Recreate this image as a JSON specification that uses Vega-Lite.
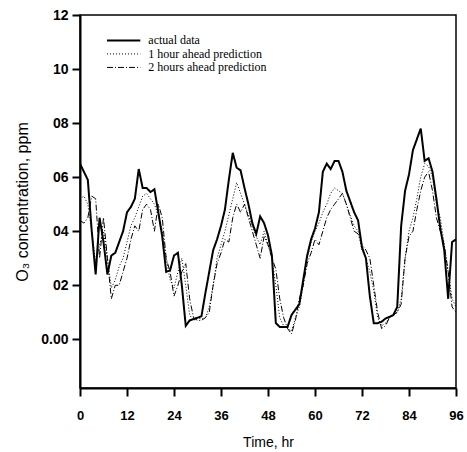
{
  "$schema": "https://vega.github.io/schema/vega-lite/v6.json",
  "width": 376,
  "height": 373,
  "autosize": "none",
  "padding": {"left": 80, "top": 15, "right": 11, "bottom": 64},
  "background": "white",
  "config": {
    "view": {"stroke": "black", "strokeWidth": 1.5},
    "axis": {"grid": false, "domainColor": "black", "tickColor": "black", "labelColor": "black", "titleColor": "black", "labelFont": "Liberation Sans", "titleFont": "Liberation Sans", "labelFontSize": 13, "titleFontSize": 14, "labelFontWeight": "bold", "titleFontWeight": "normal", "domainWidth": 2, "tickWidth": 2}
  },
  "datasets": {
    "legend": [
      {"s":"actual data","t":6.9,"t2":15.4,"v":0.1106},
      {"s":"1 hour ahead prediction","t":6.9,"t2":15.4,"v":0.1056},
      {"s":"2 hours ahead prediction","t":6.9,"t2":15.4,"v":0.1006}
    ],
    "series": [
      {"s":"actual data","t":0,"v":0.065},{"s":"actual data","t":1,"v":0.062},{"s":"actual data","t":2,"v":0.059},{"s":"actual data","t":3,"v":0.040},{"s":"actual data","t":4,"v":0.024},{"s":"actual data","t":5,"v":0.045},{"s":"actual data","t":6,"v":0.036},{"s":"actual data","t":7,"v":0.024},{"s":"actual data","t":8,"v":0.031},{"s":"actual data","t":9,"v":0.032},{"s":"actual data","t":10,"v":0.036},{"s":"actual data","t":11,"v":0.040},{"s":"actual data","t":12,"v":0.047},{"s":"actual data","t":13,"v":0.049},{"s":"actual data","t":14,"v":0.052},{"s":"actual data","t":15,"v":0.063},{"s":"actual data","t":16,"v":0.056},{"s":"actual data","t":17,"v":0.056},{"s":"actual data","t":18,"v":0.0545},{"s":"actual data","t":19,"v":0.0555},{"s":"actual data","t":20,"v":0.047},{"s":"actual data","t":21,"v":0.038},{"s":"actual data","t":22,"v":0.025},{"s":"actual data","t":23,"v":0.0255},{"s":"actual data","t":24,"v":0.031},{"s":"actual data","t":25,"v":0.032},{"s":"actual data","t":26,"v":0.020},{"s":"actual data","t":27,"v":0.005},{"s":"actual data","t":28,"v":0.007},{"s":"actual data","t":29,"v":0.0075},{"s":"actual data","t":30,"v":0.008},{"s":"actual data","t":31,"v":0.0085},{"s":"actual data","t":32,"v":0.017},{"s":"actual data","t":33,"v":0.025},{"s":"actual data","t":34,"v":0.033},{"s":"actual data","t":35,"v":0.037},{"s":"actual data","t":36,"v":0.042},{"s":"actual data","t":37,"v":0.048},{"s":"actual data","t":38,"v":0.059},{"s":"actual data","t":39,"v":0.069},{"s":"actual data","t":40,"v":0.0635},{"s":"actual data","t":41,"v":0.0625},{"s":"actual data","t":42,"v":0.056},{"s":"actual data","t":43,"v":0.050},{"s":"actual data","t":44,"v":0.043},{"s":"actual data","t":45,"v":0.039},{"s":"actual data","t":46,"v":0.0455},{"s":"actual data","t":47,"v":0.043},{"s":"actual data","t":48,"v":0.0385},{"s":"actual data","t":49,"v":0.031},{"s":"actual data","t":50,"v":0.006},{"s":"actual data","t":51,"v":0.0046},{"s":"actual data","t":52,"v":0.0046},{"s":"actual data","t":53,"v":0.0046},{"s":"actual data","t":54,"v":0.009},{"s":"actual data","t":55,"v":0.011},{"s":"actual data","t":56,"v":0.013},{"s":"actual data","t":57,"v":0.022},{"s":"actual data","t":58,"v":0.031},{"s":"actual data","t":59,"v":0.037},{"s":"actual data","t":60,"v":0.041},{"s":"actual data","t":61,"v":0.047},{"s":"actual data","t":62,"v":0.062},{"s":"actual data","t":63,"v":0.065},{"s":"actual data","t":64,"v":0.063},{"s":"actual data","t":65,"v":0.066},{"s":"actual data","t":66,"v":0.066},{"s":"actual data","t":67,"v":0.062},{"s":"actual data","t":68,"v":0.055},{"s":"actual data","t":69,"v":0.051},{"s":"actual data","t":70,"v":0.047},{"s":"actual data","t":71,"v":0.044},{"s":"actual data","t":72,"v":0.034},{"s":"actual data","t":73,"v":0.030},{"s":"actual data","t":74,"v":0.016},{"s":"actual data","t":75,"v":0.006},{"s":"actual data","t":76,"v":0.006},{"s":"actual data","t":77,"v":0.0065},{"s":"actual data","t":78,"v":0.0077},{"s":"actual data","t":79,"v":0.0083},{"s":"actual data","t":80,"v":0.009},{"s":"actual data","t":81,"v":0.012},{"s":"actual data","t":82,"v":0.042},{"s":"actual data","t":83,"v":0.055},{"s":"actual data","t":84,"v":0.061},{"s":"actual data","t":85,"v":0.070},{"s":"actual data","t":86,"v":0.074},{"s":"actual data","t":87,"v":0.078},{"s":"actual data","t":88,"v":0.066},{"s":"actual data","t":89,"v":0.067},{"s":"actual data","t":90,"v":0.062},{"s":"actual data","t":91,"v":0.052},{"s":"actual data","t":92,"v":0.041},{"s":"actual data","t":93,"v":0.033},{"s":"actual data","t":94,"v":0.015},{"s":"actual data","t":95,"v":0.036},{"s":"actual data","t":96,"v":0.037},

      {"s":"1 hour ahead prediction","t":0,"v":0.052},{"s":"1 hour ahead prediction","t":1,"v":0.053},{"s":"1 hour ahead prediction","t":2,"v":0.050},{"s":"1 hour ahead prediction","t":3,"v":0.040},{"s":"1 hour ahead prediction","t":4,"v":0.028},{"s":"1 hour ahead prediction","t":5,"v":0.035},{"s":"1 hour ahead prediction","t":6,"v":0.040},{"s":"1 hour ahead prediction","t":7,"v":0.030},{"s":"1 hour ahead prediction","t":8,"v":0.019},{"s":"1 hour ahead prediction","t":9,"v":0.022},{"s":"1 hour ahead prediction","t":10,"v":0.027},{"s":"1 hour ahead prediction","t":11,"v":0.030},{"s":"1 hour ahead prediction","t":12,"v":0.036},{"s":"1 hour ahead prediction","t":13,"v":0.042},{"s":"1 hour ahead prediction","t":14,"v":0.045},{"s":"1 hour ahead prediction","t":15,"v":0.049},{"s":"1 hour ahead prediction","t":16,"v":0.053},{"s":"1 hour ahead prediction","t":17,"v":0.054},{"s":"1 hour ahead prediction","t":18,"v":0.052},{"s":"1 hour ahead prediction","t":19,"v":0.050},{"s":"1 hour ahead prediction","t":20,"v":0.046},{"s":"1 hour ahead prediction","t":21,"v":0.040},{"s":"1 hour ahead prediction","t":22,"v":0.030},{"s":"1 hour ahead prediction","t":23,"v":0.022},{"s":"1 hour ahead prediction","t":24,"v":0.019},{"s":"1 hour ahead prediction","t":25,"v":0.025},{"s":"1 hour ahead prediction","t":26,"v":0.030},{"s":"1 hour ahead prediction","t":27,"v":0.020},{"s":"1 hour ahead prediction","t":28,"v":0.009},{"s":"1 hour ahead prediction","t":29,"v":0.007},{"s":"1 hour ahead prediction","t":30,"v":0.008},{"s":"1 hour ahead prediction","t":31,"v":0.0075},{"s":"1 hour ahead prediction","t":32,"v":0.008},{"s":"1 hour ahead prediction","t":33,"v":0.012},{"s":"1 hour ahead prediction","t":34,"v":0.020},{"s":"1 hour ahead prediction","t":35,"v":0.030},{"s":"1 hour ahead prediction","t":36,"v":0.035},{"s":"1 hour ahead prediction","t":37,"v":0.040},{"s":"1 hour ahead prediction","t":38,"v":0.046},{"s":"1 hour ahead prediction","t":39,"v":0.052},{"s":"1 hour ahead prediction","t":40,"v":0.058},{"s":"1 hour ahead prediction","t":41,"v":0.054},{"s":"1 hour ahead prediction","t":42,"v":0.050},{"s":"1 hour ahead prediction","t":43,"v":0.046},{"s":"1 hour ahead prediction","t":44,"v":0.042},{"s":"1 hour ahead prediction","t":45,"v":0.038},{"s":"1 hour ahead prediction","t":46,"v":0.035},{"s":"1 hour ahead prediction","t":47,"v":0.040},{"s":"1 hour ahead prediction","t":48,"v":0.035},{"s":"1 hour ahead prediction","t":49,"v":0.030},{"s":"1 hour ahead prediction","t":50,"v":0.020},{"s":"1 hour ahead prediction","t":51,"v":0.008},{"s":"1 hour ahead prediction","t":52,"v":0.005},{"s":"1 hour ahead prediction","t":53,"v":0.004},{"s":"1 hour ahead prediction","t":54,"v":0.003},{"s":"1 hour ahead prediction","t":55,"v":0.008},{"s":"1 hour ahead prediction","t":56,"v":0.012},{"s":"1 hour ahead prediction","t":57,"v":0.020},{"s":"1 hour ahead prediction","t":58,"v":0.030},{"s":"1 hour ahead prediction","t":59,"v":0.036},{"s":"1 hour ahead prediction","t":60,"v":0.040},{"s":"1 hour ahead prediction","t":61,"v":0.043},{"s":"1 hour ahead prediction","t":62,"v":0.047},{"s":"1 hour ahead prediction","t":63,"v":0.050},{"s":"1 hour ahead prediction","t":64,"v":0.054},{"s":"1 hour ahead prediction","t":65,"v":0.056},{"s":"1 hour ahead prediction","t":66,"v":0.055},{"s":"1 hour ahead prediction","t":67,"v":0.054},{"s":"1 hour ahead prediction","t":68,"v":0.050},{"s":"1 hour ahead prediction","t":69,"v":0.046},{"s":"1 hour ahead prediction","t":70,"v":0.042},{"s":"1 hour ahead prediction","t":71,"v":0.040},{"s":"1 hour ahead prediction","t":72,"v":0.033},{"s":"1 hour ahead prediction","t":73,"v":0.030},{"s":"1 hour ahead prediction","t":74,"v":0.025},{"s":"1 hour ahead prediction","t":75,"v":0.018},{"s":"1 hour ahead prediction","t":76,"v":0.008},{"s":"1 hour ahead prediction","t":77,"v":0.005},{"s":"1 hour ahead prediction","t":78,"v":0.006},{"s":"1 hour ahead prediction","t":79,"v":0.008},{"s":"1 hour ahead prediction","t":80,"v":0.009},{"s":"1 hour ahead prediction","t":81,"v":0.010},{"s":"1 hour ahead prediction","t":82,"v":0.015},{"s":"1 hour ahead prediction","t":83,"v":0.030},{"s":"1 hour ahead prediction","t":84,"v":0.040},{"s":"1 hour ahead prediction","t":85,"v":0.045},{"s":"1 hour ahead prediction","t":86,"v":0.052},{"s":"1 hour ahead prediction","t":87,"v":0.060},{"s":"1 hour ahead prediction","t":88,"v":0.065},{"s":"1 hour ahead prediction","t":89,"v":0.064},{"s":"1 hour ahead prediction","t":90,"v":0.060},{"s":"1 hour ahead prediction","t":91,"v":0.050},{"s":"1 hour ahead prediction","t":92,"v":0.045},{"s":"1 hour ahead prediction","t":93,"v":0.035},{"s":"1 hour ahead prediction","t":94,"v":0.025},{"s":"1 hour ahead prediction","t":95,"v":0.015},{"s":"1 hour ahead prediction","t":96,"v":0.012},

      {"s":"2 hours ahead prediction","t":0,"v":0.044},{"s":"2 hours ahead prediction","t":1,"v":0.043},{"s":"2 hours ahead prediction","t":2,"v":0.045},{"s":"2 hours ahead prediction","t":3,"v":0.053},{"s":"2 hours ahead prediction","t":4,"v":0.052},{"s":"2 hours ahead prediction","t":5,"v":0.030},{"s":"2 hours ahead prediction","t":6,"v":0.045},{"s":"2 hours ahead prediction","t":7,"v":0.030},{"s":"2 hours ahead prediction","t":8,"v":0.015},{"s":"2 hours ahead prediction","t":9,"v":0.020},{"s":"2 hours ahead prediction","t":10,"v":0.020},{"s":"2 hours ahead prediction","t":11,"v":0.025},{"s":"2 hours ahead prediction","t":12,"v":0.030},{"s":"2 hours ahead prediction","t":13,"v":0.037},{"s":"2 hours ahead prediction","t":14,"v":0.042},{"s":"2 hours ahead prediction","t":15,"v":0.040},{"s":"2 hours ahead prediction","t":16,"v":0.048},{"s":"2 hours ahead prediction","t":17,"v":0.050},{"s":"2 hours ahead prediction","t":18,"v":0.048},{"s":"2 hours ahead prediction","t":19,"v":0.040},{"s":"2 hours ahead prediction","t":20,"v":0.050},{"s":"2 hours ahead prediction","t":21,"v":0.045},{"s":"2 hours ahead prediction","t":22,"v":0.030},{"s":"2 hours ahead prediction","t":23,"v":0.025},{"s":"2 hours ahead prediction","t":24,"v":0.016},{"s":"2 hours ahead prediction","t":25,"v":0.020},{"s":"2 hours ahead prediction","t":26,"v":0.025},{"s":"2 hours ahead prediction","t":27,"v":0.028},{"s":"2 hours ahead prediction","t":28,"v":0.015},{"s":"2 hours ahead prediction","t":29,"v":0.008},{"s":"2 hours ahead prediction","t":30,"v":0.007},{"s":"2 hours ahead prediction","t":31,"v":0.007},{"s":"2 hours ahead prediction","t":32,"v":0.008},{"s":"2 hours ahead prediction","t":33,"v":0.010},{"s":"2 hours ahead prediction","t":34,"v":0.020},{"s":"2 hours ahead prediction","t":35,"v":0.028},{"s":"2 hours ahead prediction","t":36,"v":0.032},{"s":"2 hours ahead prediction","t":37,"v":0.037},{"s":"2 hours ahead prediction","t":38,"v":0.036},{"s":"2 hours ahead prediction","t":39,"v":0.045},{"s":"2 hours ahead prediction","t":40,"v":0.050},{"s":"2 hours ahead prediction","t":41,"v":0.047},{"s":"2 hours ahead prediction","t":42,"v":0.050},{"s":"2 hours ahead prediction","t":43,"v":0.045},{"s":"2 hours ahead prediction","t":44,"v":0.040},{"s":"2 hours ahead prediction","t":45,"v":0.035},{"s":"2 hours ahead prediction","t":46,"v":0.030},{"s":"2 hours ahead prediction","t":47,"v":0.038},{"s":"2 hours ahead prediction","t":48,"v":0.035},{"s":"2 hours ahead prediction","t":49,"v":0.030},{"s":"2 hours ahead prediction","t":50,"v":0.026},{"s":"2 hours ahead prediction","t":51,"v":0.015},{"s":"2 hours ahead prediction","t":52,"v":0.008},{"s":"2 hours ahead prediction","t":53,"v":0.004},{"s":"2 hours ahead prediction","t":54,"v":0.002},{"s":"2 hours ahead prediction","t":55,"v":0.007},{"s":"2 hours ahead prediction","t":56,"v":0.015},{"s":"2 hours ahead prediction","t":57,"v":0.020},{"s":"2 hours ahead prediction","t":58,"v":0.028},{"s":"2 hours ahead prediction","t":59,"v":0.032},{"s":"2 hours ahead prediction","t":60,"v":0.037},{"s":"2 hours ahead prediction","t":61,"v":0.035},{"s":"2 hours ahead prediction","t":62,"v":0.040},{"s":"2 hours ahead prediction","t":63,"v":0.045},{"s":"2 hours ahead prediction","t":64,"v":0.048},{"s":"2 hours ahead prediction","t":65,"v":0.050},{"s":"2 hours ahead prediction","t":66,"v":0.052},{"s":"2 hours ahead prediction","t":67,"v":0.054},{"s":"2 hours ahead prediction","t":68,"v":0.050},{"s":"2 hours ahead prediction","t":69,"v":0.045},{"s":"2 hours ahead prediction","t":70,"v":0.040},{"s":"2 hours ahead prediction","t":71,"v":0.039},{"s":"2 hours ahead prediction","t":72,"v":0.035},{"s":"2 hours ahead prediction","t":73,"v":0.033},{"s":"2 hours ahead prediction","t":74,"v":0.030},{"s":"2 hours ahead prediction","t":75,"v":0.020},{"s":"2 hours ahead prediction","t":76,"v":0.010},{"s":"2 hours ahead prediction","t":77,"v":0.004},{"s":"2 hours ahead prediction","t":78,"v":0.005},{"s":"2 hours ahead prediction","t":79,"v":0.008},{"s":"2 hours ahead prediction","t":80,"v":0.009},{"s":"2 hours ahead prediction","t":81,"v":0.010},{"s":"2 hours ahead prediction","t":82,"v":0.013},{"s":"2 hours ahead prediction","t":83,"v":0.030},{"s":"2 hours ahead prediction","t":84,"v":0.038},{"s":"2 hours ahead prediction","t":85,"v":0.040},{"s":"2 hours ahead prediction","t":86,"v":0.048},{"s":"2 hours ahead prediction","t":87,"v":0.055},{"s":"2 hours ahead prediction","t":88,"v":0.060},{"s":"2 hours ahead prediction","t":89,"v":0.062},{"s":"2 hours ahead prediction","t":90,"v":0.055},{"s":"2 hours ahead prediction","t":91,"v":0.045},{"s":"2 hours ahead prediction","t":92,"v":0.040},{"s":"2 hours ahead prediction","t":93,"v":0.035},{"s":"2 hours ahead prediction","t":94,"v":0.025},{"s":"2 hours ahead prediction","t":95,"v":0.012},{"s":"2 hours ahead prediction","t":96,"v":0.010}
    ]
  },
  "encoding": {
    "x": {"field": "t", "type": "quantitative", "title": "Time, hr",
      "scale": {"domain": [0, 96], "nice": false, "zero": false},
      "axis": {"values": [0,12,24,36,48,60,72,84,96], "tickSize": 8, "labelPadding": 13, "titlePadding": 13, "labelFlush": false}},
    "y": {"field": "v", "type": "quantitative", "title": "O₃ concentration, ppm",
      "scale": {"domain": [-0.018, 0.12], "nice": false, "zero": false},
      "axis": {"values": [0,0.02,0.04,0.06,0.08,0.1,0.12], "tickSize": 8, "labelPadding": 4, "labelFontSize": 14, "titlePadding": 10, "labelFlush": false, "titleFontSize": 16,
        "labelExpr": "datum.value == 0 ? '0.00' : replace(format(datum.value, '.2f'), '0.', '')"}},
    "strokeDash": {"field": "s", "type": "nominal",
      "scale": {"domain": ["actual data", "1 hour ahead prediction", "2 hours ahead prediction"], "range": [[1,0],[1,2],[6,2,1,2]]},
      "legend": null},
    "strokeWidth": {"field": "s", "type": "nominal",
      "scale": {"type": "ordinal", "domain": ["actual data", "1 hour ahead prediction", "2 hours ahead prediction"], "range": [2, 1, 1]},
      "legend": null}
  },
  "layer": [
    {"data": {"name": "series"}, "mark": {"type": "line", "color": "black", "clip": true}},
    {"data": {"name": "legend"}, "mark": {"type": "rule", "color": "black"}, "encoding": {"x2": {"field": "t2"}}},
    {"data": {"name": "legend"}, "mark": {"type": "text", "align": "left", "baseline": "middle", "dx": 8, "font": "Liberation Serif", "fontSize": 12, "color": "black"},
      "encoding": {"x": {"field": "t2", "type": "quantitative", "title": "Time, hr"}, "text": {"field": "s"}, "strokeDash": null, "strokeWidth": null}}
  ]
}
